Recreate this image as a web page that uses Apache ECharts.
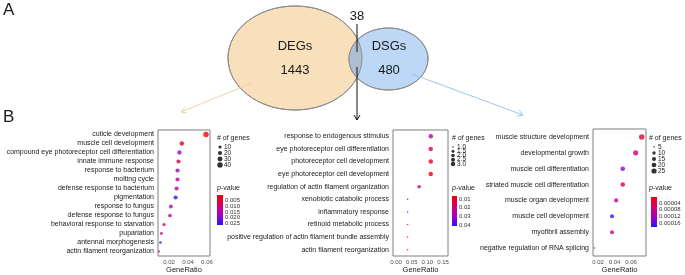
<!DOCTYPE html>
<html>
<head>
<meta charset="utf-8">
<script src="https://cdn.jsdelivr.net/npm/echarts@6/dist/echarts.min.js"></script>
<style>
  html, body { margin: 0; padding: 0; background: #fff; }
  #chart { width: 685px; height: 275px; }
</style>
</head>
<body>
<div id="chart"></div>
<script>
// panel 1: DEGs
const terms1 = ['cuticle development', 'muscle cell development', 'compound eye photoreceptor cell differentiation',
  'innate immune response', 'response to bacterium', 'molting cycle', 'defense response to bacterium',
  'pigmentation', 'response to fungus', 'defense response to fungus', 'behavioral response to starvation',
  'pupariation', 'antennal morphogenesis', 'actin filament reorganization']
const ratio1 = [0.059, 0.0335, 0.031, 0.030, 0.029, 0.029, 0.028, 0.027, 0.022, 0.021, 0.0147, 0.012, 0.011, 0.0095]
const count1 = [40, 23, 21, 20, 20, 20, 19, 18, 15, 14, 10, 8, 7, 6]
const pval1 = [0.0003, 0.002, 0.019, 0.007, 0.017, 0.014, 0.013, 0.0262, 0.012, 0.015, 0.004, 0.012, 0.023, 0.006]

// panel 2: overlap (38)
const terms2 = ['response to endogenous stimulus', 'eye photoreceptor cell differentiation', 'photoreceptor cell development',
  'eye photoreceptor cell development', 'regulation of actin filament organization', 'xenobiotic catabolic process',
  'inflammatory response', 'retinoid metabolic process', 'positive regulation of actin filament bundle assembly',
  'actin filament reorganization']
const ratio2 = [0.111, 0.111, 0.111, 0.111, 0.074, 0.037, 0.037, 0.037, 0.037, 0.037]
const count2 = [3, 3, 3, 3, 2, 1, 1, 1, 1, 1]
const pval2 = [0.026, 0.017, 0.011, 0.0066, 0.022, 0.0412, 0.038, 0.010, 0.014, 0.013]

// panel 3: DSGs
const terms3 = ['muscle structure development', 'developmental growth', 'muscle cell differentiation',
  'striated muscle cell differentiation', 'muscle organ development', 'muscle cell development',
  'myofibril assembly', 'negative regulation of RNA splicing']
const ratio3 = [0.073, 0.0657, 0.050, 0.050, 0.042, 0.037, 0.037, 0.0157]
const count3 = [28, 25, 19, 19, 16, 14, 14, 5]
const pval3 = [0.00003, 0.00008, 0.00013, 0.00006, 0.00009, 0.000182, 0.00007, 0.0000045]

// legend keys and tick labels
const sizeKeys1 = ['10', '20', '30', '40']
const sizeKeys2 = ['1.0', '1.5', '2.0', '2.5', '3.0']
const sizeKeys3 = ['5', '10', '15', '20', '25']
const pTicks1 = [0.005, 0.010, 0.015, 0.020, 0.025]
const pTicks2 = [0.01, 0.02, 0.03, 0.04]
const pTicks3 = [0.00004, 0.00008, 0.00012, 0.00016]
const xTicks1 = [0.02, 0.04, 0.06]
const xTicks2 = [0.00, 0.05, 0.10, 0.15]
const xTicks3 = [0.02, 0.04, 0.06]

const FONT = 'Liberation Sans, Arial, sans-serif'
const pColors = ['#f20000', '#dc0050', '#c0009a', '#9000d4', '#1a1aff']

// ggplot-like area scale
const sizeFn = (cmin, cmax, dmin, dmax) => c =>
  dmin + (dmax - dmin) * Math.sqrt(Math.max(0, (c - cmin) / (cmax - cmin)))

const panels = [
  { terms: terms1, ratio: ratio1, count: count1, pval: pval1, keys: sizeKeys1, pTicks: pTicks1, xTicks: xTicks1,
    grid: { left: 158, top: 130, width: 52, height: 126 }, xMin: 0.0084, xMax: 0.0632,
    size: sizeFn(6, 40, 2, 5.5), pMin: 0.0003, pMax: 0.0262, pDigits: 3,
    sizeGrid: { left: 218, top: 144, width: 4, height: 24 }, titleX: 217,
    bar: { x: 217, y: 195, w: 6, h: 30 } },
  { terms: terms2, ratio: ratio2, count: count2, pval: pval2, keys: sizeKeys2, pTicks: pTicks2, xTicks: xTicks2,
    grid: { left: 393, top: 130, width: 55, height: 126 }, xMin: -0.0096, xMax: 0.166,
    size: sizeFn(1, 3, 1.5, 4.5), pMin: 0.0066, pMax: 0.0412, pDigits: 2,
    sizeGrid: { left: 451, top: 145, width: 4, height: 21 }, titleX: 452,
    bar: { x: 452, y: 196, w: 5, h: 30 } },
  { terms: terms3, ratio: ratio3, count: count3, pval: pval3, keys: sizeKeys3, pTicks: pTicks3, xTicks: xTicks3,
    grid: { left: 593, top: 129, width: 53, height: 127 }, xMin: 0.0139, xMax: 0.0782,
    size: sizeFn(5, 28, 1.5, 5.5), pMin: 0.0000045, pMax: 0.000182, pDigits: 5,
    sizeGrid: { left: 652, top: 144, width: 4, height: 30 }, titleX: 649,
    bar: { x: 651, y: 197, w: 6, h: 30 } }
]

const grids = [], xAxes = [], yAxes = [], series = [], visualMaps = [], graphics = []

panels.forEach((pn, i) => {
  // main dot plot
  grids.push(Object.assign({ show: true, borderColor: '#7f7f7f', borderWidth: 1 }, pn.grid))
  xAxes.push({
    type: 'value', gridIndex: grids.length - 1, min: pn.xMin, max: pn.xMax,
    axisLine: { show: false }, splitLine: { show: false },
    axisTick: { customValues: pn.xTicks, length: 2, lineStyle: { color: '#7f7f7f' } },
    axisLabel: { customValues: pn.xTicks, fontSize: 6, color: '#4d4d4d', margin: 3, fontFamily: FONT,
      hideOverlap: false, formatter: v => v.toFixed(2) },
    name: 'GeneRatio', nameLocation: 'middle', nameGap: 10,
    nameTextStyle: { fontSize: 7.5, color: '#222', fontFamily: FONT }
  })
  yAxes.push({
    type: 'category', gridIndex: grids.length - 1, data: pn.terms, inverse: true,
    axisLine: { show: false },
    axisTick: { alignWithLabel: true, interval: 0, length: 2, lineStyle: { color: '#7f7f7f' } },
    axisLabel: { interval: 0, hideOverlap: false, fontSize: 7, color: '#1a1a1a', margin: 4, fontFamily: FONT }
  })
  series.push({
    type: 'scatter', xAxisIndex: xAxes.length - 1, yAxisIndex: yAxes.length - 1, silent: true,
    data: pn.terms.map((t, k) => [pn.ratio[k], t, pn.count[k], pn.pval[k]]),
    encode: { x: 0, y: 1 },
    symbolSize: v => pn.size(v[2])
  })
  visualMaps.push({
    type: 'continuous', show: false, seriesIndex: series.length - 1, dimension: 3,
    min: pn.pMin, max: pn.pMax, inRange: { color: pColors }
  })

  // size legend
  grids.push(Object.assign({ show: false }, pn.sizeGrid))
  xAxes.push({ type: 'value', gridIndex: grids.length - 1, min: -1, max: 1, show: false })
  yAxes.push({
    type: 'category', gridIndex: grids.length - 1, data: pn.keys, inverse: true, position: 'right',
    axisLine: { show: false }, axisTick: { show: false },
    axisLabel: { interval: 0, hideOverlap: false, fontSize: 6.5, lineHeight: 6, color: '#222', margin: 2, fontFamily: FONT }
  })
  series.push({
    type: 'scatter', xAxisIndex: xAxes.length - 1, yAxisIndex: yAxes.length - 1, silent: true,
    data: pn.keys.map(k => [0, k, parseFloat(k)]),
    symbolSize: v => pn.size(v[2]), itemStyle: { color: '#000' }
  })

  // colour bar labels: evenly spaced ticks placed on the bar's p-value scale
  const toY = v => pn.bar.y + (v - pn.pMin) / (pn.pMax - pn.pMin) * pn.bar.h
  const yTop = toY(pn.pTicks[0]), yBot = toY(pn.pTicks[pn.pTicks.length - 1])
  grids.push({ show: false, left: pn.bar.x, top: yTop, width: pn.bar.w, height: yBot - yTop })
  xAxes.push({ type: 'value', gridIndex: grids.length - 1, min: 0, max: 1, show: false })
  yAxes.push({
    type: 'category', gridIndex: grids.length - 1, inverse: true, position: 'right', boundaryGap: false,
    data: pn.pTicks.map(v => v.toFixed(pn.pDigits)),
    axisLine: { show: false }, splitLine: { show: false },
    axisTick: { interval: 0, inside: true, length: 1.5, lineStyle: { color: '#fff' } },
    axisLabel: { interval: 0, hideOverlap: false, fontSize: 6, lineHeight: 6, color: '#333', margin: 2, fontFamily: FONT }
  })
  graphics.push({
    type: 'rect', z: 1, shape: { x: pn.bar.x, y: pn.bar.y, width: pn.bar.w, height: pn.bar.h },
    style: { fill: new echarts.graphic.LinearGradient(0, 0, 0, 1,
      pColors.map((c, k) => ({ offset: k / (pColors.length - 1), color: c }))) }
  })
  graphics.push({ type: 'text', left: pn.titleX, top: 135,
    style: { text: '# of genes', fontSize: 7, fill: '#222', fontFamily: FONT } })
  graphics.push({ type: 'text', left: pn.titleX, top: 185,
    style: { text: '{i|p}-value', fontSize: 7, fill: '#222', fontFamily: FONT,
      rich: { i: { fontStyle: 'italic', fontSize: 7, fontFamily: FONT } } } })
})

// Venn diagram
const degs = { cx: 295, cy: 58, rx: 67, ry: 52 }
const dsgs = { cx: 388.5, cy: 59, rx: 39.5, ry: 31 }
const inside = (e, x, y) => ((x - e.cx) / e.rx) ** 2 + ((y - e.cy) / e.ry) ** 2 <= 1
const lens = []
for (let k = 0; k <= 360; k++) {
  const t = -Math.PI / 2 + Math.PI * k / 360
  const x = degs.cx + degs.rx * Math.cos(t), y = degs.cy + degs.ry * Math.sin(t)
  if (inside(dsgs, x, y)) lens.push([x, y])
}
for (let k = 0; k <= 360; k++) {
  const t = Math.PI / 2 + Math.PI * k / 360
  const x = dsgs.cx + dsgs.rx * Math.cos(t), y = dsgs.cy + dsgs.ry * Math.sin(t)
  if (inside(degs, x, y)) lens.push([x, y])
}
const ell = (e, fill) => ({ type: 'ellipse', z: 2, shape: e, style: { fill: fill, stroke: '#8c8c8c', lineWidth: 1 } })
graphics.push(ell(degs, '#f8e0bc'), ell(dsgs, '#bdd8f6'))
graphics.push({ type: 'polygon', z: 3, shape: { points: lens }, style: { fill: '#afbfd3' } })
graphics.push(
  { type: 'ellipse', z: 4, shape: degs, style: { fill: null, stroke: '#8c8c8c', lineWidth: 1 } },
  { type: 'ellipse', z: 4, shape: dsgs, style: { fill: null, stroke: '#8c8c8c', lineWidth: 1 } }
)

const arrow = (x1, y1, x2, y2, color) => {
  const a = Math.atan2(y2 - y1, x2 - x1), h = 5, w = 3
  return [
    { type: 'line', z: 5, shape: { x1, y1, x2, y2 }, style: { stroke: color, lineWidth: 1 } },
    { type: 'polyline', z: 5, shape: { points: [
      [x2 - h * Math.cos(a) + w * Math.sin(a), y2 - h * Math.sin(a) - w * Math.cos(a)],
      [x2, y2],
      [x2 - h * Math.cos(a) - w * Math.sin(a), y2 - h * Math.sin(a) + w * Math.cos(a)]] },
      style: { stroke: color, fill: null, lineWidth: 1 } }
  ]
}
graphics.push(...arrow(252, 83, 181, 112, '#eed3a6'))
graphics.push(...arrow(412, 74, 523, 115, '#9cc6f0'))
graphics.push({ type: 'line', z: 5, shape: { x1: 357, y1: 24, x2: 357, y2: 52 }, style: { stroke: '#111', lineWidth: 1 } })
graphics.push(...arrow(357, 67, 357, 120, '#111'))

const txt = (s, x, y, size) => ({ type: 'text', z: 6, x: x, y: y,
  style: { text: s, fontSize: size, fill: '#1a1a1a', fontFamily: FONT, align: 'center', verticalAlign: 'middle' } })
graphics.push(txt('38', 357, 16, 13), txt('DEGs', 295, 46, 13), txt('1443', 295, 70, 13),
  txt('DSGs', 389, 46, 13), txt('480', 389, 70, 13))
graphics.push(
  { type: 'text', z: 6, x: 3, y: 10, style: { text: 'A', fontSize: 17, fill: '#1a1a1a', fontFamily: FONT, verticalAlign: 'middle' } },
  { type: 'text', z: 6, x: 3, y: 117, style: { text: 'B', fontSize: 17, fill: '#1a1a1a', fontFamily: FONT, verticalAlign: 'middle' } }
)

const chart = echarts.init(document.getElementById('chart'))
chart.setOption({
  animation: false,
  textStyle: { fontFamily: FONT },
  grid: grids,
  xAxis: xAxes,
  yAxis: yAxes,
  visualMap: visualMaps,
  series: series,
  graphic: graphics
})
</script>
</body>
</html>
